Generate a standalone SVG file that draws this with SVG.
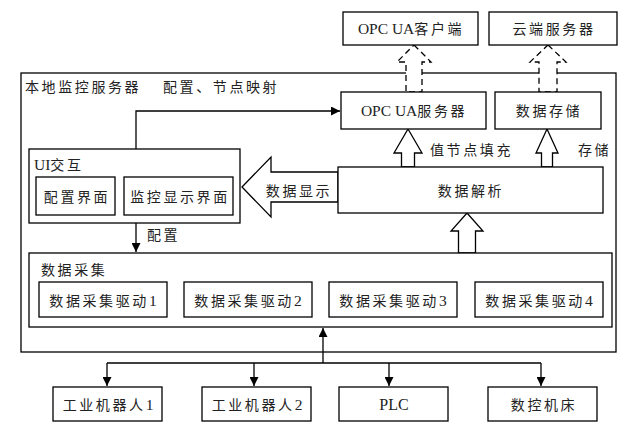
<svg xmlns="http://www.w3.org/2000/svg" width="630" height="430" viewBox="0 0 630 430">
<style>
.box{fill:#fff;stroke:#000;stroke-width:1.3}
.frame{fill:none;stroke:#000;stroke-width:1.3}
.line{fill:none;stroke:#000;stroke-width:1.3}
.hollow{fill:#fff;stroke:#000;stroke-width:1.3;stroke-linejoin:miter}
.dash{fill:#fff;stroke:#000;stroke-width:1.3;stroke-dasharray:6 4}
text{font-family:"Liberation Serif","Noto Sans CJK SC",serif;font-size:14px;fill:#222}
.cjk{letter-spacing:2.6px}
.m{text-anchor:middle}
.lat{font-size:15.5px;letter-spacing:0}
</style>
<defs>
<marker id="ah" markerUnits="userSpaceOnUse" markerWidth="9" markerHeight="9" viewBox="0 0 10 10" refX="10" refY="5" orient="auto">
<path d="M0,0 L10,5 L0,10 z" fill="#000"/>
</marker>
</defs>

<g id="local-server">
<rect class="frame" x="21" y="73" width="595" height="279"/>
<text class="cjk" x="25" y="92">本地监控服务器</text>
</g>

<g id="connectors">
<polyline class="line" points="136,149 136,111 340,111" marker-end="url(#ah)"/>
<text class="cjk" x="163" y="92">配置、节点映射</text>
<line class="line" x1="136" y1="223" x2="136" y2="252" marker-end="url(#ah)"/>
<text class="cjk" x="147" y="240">配置</text>
<line class="line" x1="323" y1="363" x2="323" y2="328" marker-end="url(#ah)"/>
<line class="line" x1="107" y1="363" x2="541" y2="363"/>
<line class="line" x1="107" y1="363" x2="107" y2="386" marker-end="url(#ah)"/>
<line class="line" x1="254" y1="363" x2="254" y2="386" marker-end="url(#ah)"/>
<line class="line" x1="389" y1="363" x2="389" y2="386" marker-end="url(#ah)"/>
<line class="line" x1="541" y1="363" x2="541" y2="386" marker-end="url(#ah)"/>
<polygon class="dash" points="414,45 431,62 422,62 422,92 406,92 406,62 397,62"/>
<polygon class="dash" points="548,45 566,62 557,62 557,92 539,92 539,62 530,62"/>
<polygon class="hollow" points="408,129 422,153 414.5,153 414.5,167 401.5,167 401.5,153 394,153"/>
<text class="cjk" x="430" y="155">值节点填充</text>
<polygon class="hollow" points="547,129 558,153 552.5,153 552.5,167 541.5,167 541.5,153 536,153"/>
<text class="cjk" x="578" y="155">存储</text>
<polygon class="hollow" points="467,213 483,231 475.5,231 475.5,253 458.5,253 458.5,231 451,231"/>
<polygon class="hollow" points="242,187 271,157 271,172 338,172 338,202 271,202 271,217"/>
<text class="cjk m" x="299" y="196">数据显示</text>
</g>

<g id="opcua-client">
<rect class="box" x="343" y="12" width="135" height="33"/>
<text class="m" x="411" y="34"><tspan class="lat">OPC UA</tspan><tspan class="cjk">客户端</tspan></text>
</g>
<g id="cloud-server">
<rect class="box" x="489" y="12" width="128" height="33"/>
<text class="cjk m" x="554" y="34">云端服务器</text>
</g>
<g id="opcua-server">
<rect class="box" x="341" y="92" width="145" height="37"/>
<text class="m" x="414" y="116"><tspan class="lat">OPC UA</tspan><tspan class="cjk">服务器</tspan></text>
</g>
<g id="data-storage">
<rect class="box" x="495" y="92" width="106" height="37"/>
<text class="cjk m" x="549" y="116">数据存储</text>
</g>
<g id="data-parse">
<rect class="box" x="338" y="167" width="265" height="46"/>
<text class="cjk m" x="471" y="196">数据解析</text>
</g>
<g id="ui">
<rect class="box" x="29" y="149" width="211" height="74"/>
<text x="34" y="170"><tspan class="lat">UI</tspan><tspan class="cjk">交互</tspan></text>
</g>
<g id="config-ui">
<rect class="box" x="36" y="177" width="79" height="38"/>
<text class="cjk m" x="77" y="202">配置界面</text>
</g>
<g id="monitor-ui">
<rect class="box" x="124" y="177" width="109" height="38"/>
<text class="cjk m" x="180" y="202">监控显示界面</text>
</g>
<g id="data-acq">
<rect class="box" x="29" y="253" width="583" height="74"/>
<text class="cjk" x="41" y="275">数据采集</text>
</g>
<g id="driver1">
<rect class="box" x="39" y="282" width="128" height="35"/>
<text class="m" x="103" y="306"><tspan class="cjk">数据采集驱动</tspan><tspan class="lat">1</tspan></text>
</g>
<g id="driver2">
<rect class="box" x="184" y="282" width="128" height="35"/>
<text class="m" x="248" y="306"><tspan class="cjk">数据采集驱动</tspan><tspan class="lat">2</tspan></text>
</g>
<g id="driver3">
<rect class="box" x="329" y="282" width="128" height="35"/>
<text class="m" x="393" y="306"><tspan class="cjk">数据采集驱动</tspan><tspan class="lat">3</tspan></text>
</g>
<g id="driver4">
<rect class="box" x="475" y="282" width="128" height="35"/>
<text class="m" x="539" y="306"><tspan class="cjk">数据采集驱动</tspan><tspan class="lat">4</tspan></text>
</g>
<g id="robot1">
<rect class="box" x="53" y="387" width="109" height="34"/>
<text class="m" x="108" y="410"><tspan class="cjk">工业机器人</tspan><tspan class="lat">1</tspan></text>
</g>
<g id="robot2">
<rect class="box" x="202" y="387" width="109" height="34"/>
<text class="m" x="257" y="410"><tspan class="cjk">工业机器人</tspan><tspan class="lat">2</tspan></text>
</g>
<g id="plc">
<rect class="box" x="339" y="387" width="109" height="34"/>
<text class="m lat" x="394" y="410" style="font-size:16px">PLC</text>
</g>
<g id="cnc">
<rect class="box" x="488" y="387" width="109" height="34"/>
<text class="cjk m" x="544" y="410">数控机床</text>
</g>
</svg>
